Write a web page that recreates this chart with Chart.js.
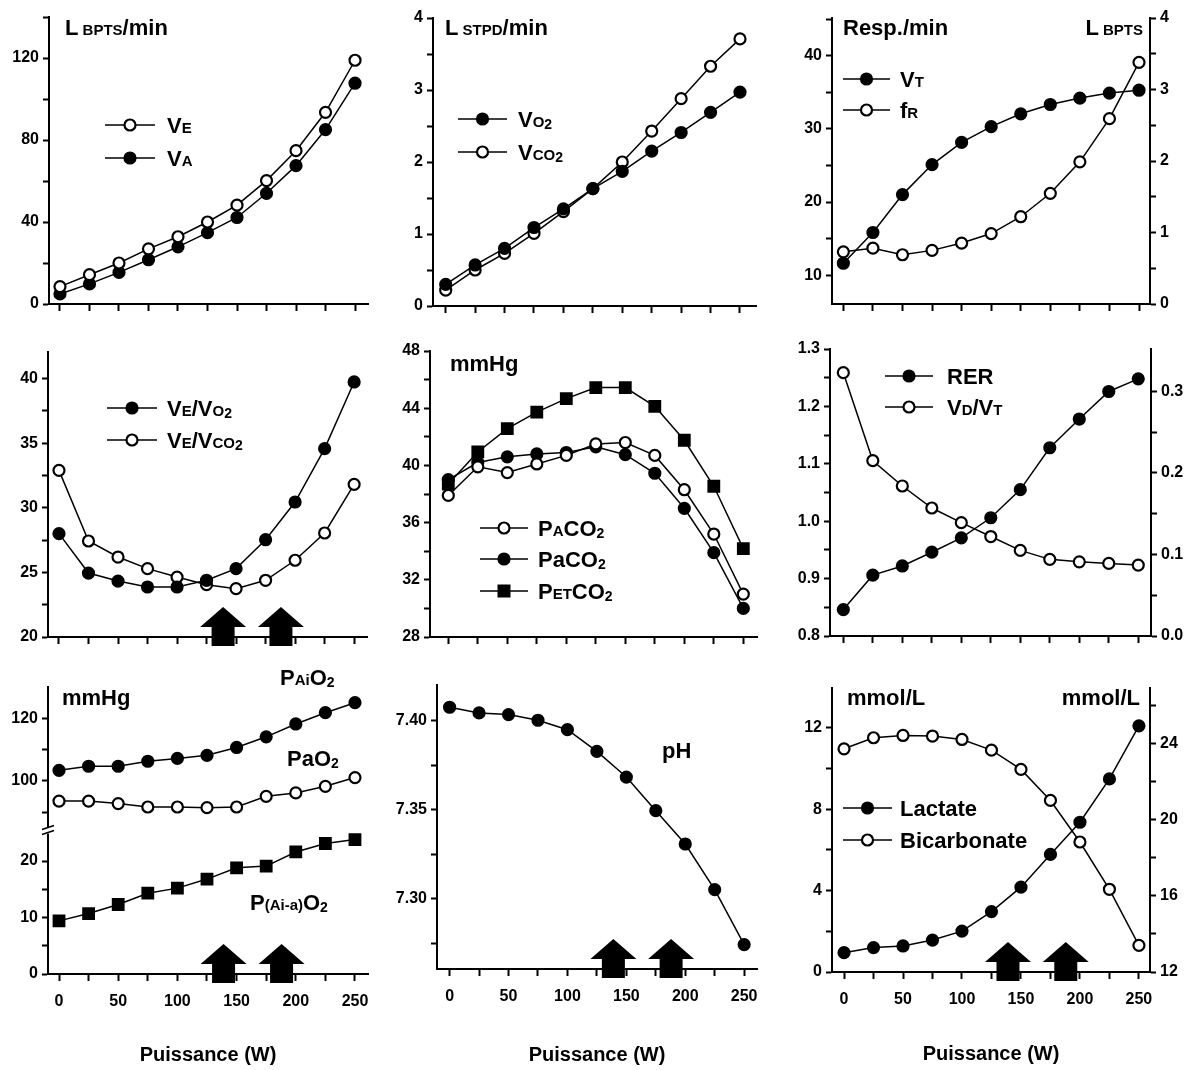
<!DOCTYPE html>
<html lang="fr">
<head>
<meta charset="UTF-8" />
<title>Puissance (W) - variables ventilatoires</title>
<script src="https://cdn.jsdelivr.net/npm/chart.js"></script>
<style>
  html, body { margin: 0; padding: 0; background: #fff; }
  #page { position: relative; width: 1193px; height: 1070px; overflow: hidden; background: #fff; }
  #page canvas { position: absolute; }
</style>
</head>
<body>
<div id="page"></div>
<script>
// x: puissance (W)
const watts = [0, 25, 50, 75, 100, 125, 150, 175, 200, 225, 250];
const xTicks = [0, 25, 50, 75, 100, 125, 150, 175, 200, 225, 250];
const xTickLabels = [0, 50, 100, 150, 200, 250];
const arrowsW = [139, 188];

// top row
const vE = [8.5, 14.3, 20.0, 26.9, 32.8, 40.0, 48.2, 60.2, 74.8, 93.5, 118.9];
const vA = [4.9, 9.8, 15.4, 21.6, 27.9, 34.8, 42.2, 54.0, 67.5, 85.1, 107.7];
const vO2 = [0.30, 0.57, 0.80, 1.09, 1.35, 1.63, 1.87, 2.15, 2.41, 2.69, 2.97];
const vCO2 = [0.22, 0.50, 0.73, 1.01, 1.31, 1.63, 2.00, 2.43, 2.88, 3.33, 3.71];
const vT = [0.57, 1.00, 1.53, 1.95, 2.26, 2.48, 2.66, 2.79, 2.88, 2.95, 2.99];
const fR = [13.2, 13.7, 12.8, 13.4, 14.4, 15.7, 18.0, 21.2, 25.5, 31.4, 39.1];

// middle row
const veVo2 = [28.0, 24.95, 24.33, 23.87, 23.87, 24.39, 25.29, 27.53, 30.45, 34.58, 39.74];
const veVco2 = [32.9, 27.43, 26.19, 25.29, 24.64, 24.05, 23.74, 24.39, 25.94, 28.05, 31.82];
const pAco2 = [37.9, 39.9, 39.5, 40.1, 40.7, 41.5, 41.6, 40.7, 38.3, 35.2, 31.0];
const paCo2 = [39.0, 40.2, 40.6, 40.8, 40.9, 41.3, 40.75, 39.45, 37.0, 33.9, 30.0];
const petCo2 = [38.7, 40.94, 42.57, 43.73, 44.67, 45.44, 45.44, 44.13, 41.76, 38.54, 34.18];
const rer = [0.846, 0.906, 0.922, 0.946, 0.971, 1.006, 1.055, 1.128, 1.178, 1.226, 1.248];
const vdVt = [0.323, 0.215, 0.184, 0.157, 0.139, 0.122, 0.105, 0.094, 0.091, 0.089, 0.087];

// bottom row
const pAiO2 = [103.4, 104.7, 104.7, 106.3, 107.2, 108.2, 110.7, 114.1, 118.2, 121.8, 125.0];
const paO2 = [93.6, 93.6, 92.8, 91.7, 91.7, 91.5, 91.7, 95.1, 96.2, 98.3, 101.1];
const pAiaO2 = [9.4, 10.7, 12.3, 14.3, 15.2, 16.8, 18.8, 19.1, 21.6, 23.1, 23.8];
const pH = [7.4075, 7.4043, 7.4034, 7.4002, 7.3949, 7.3827, 7.3683, 7.3494, 7.3307, 7.3051, 7.2742];
const lactate = [0.95, 1.20, 1.28, 1.57, 2.01, 2.97, 4.17, 5.78, 7.36, 9.49, 12.1];
const bicarb = [23.71, 24.29, 24.41, 24.38, 24.20, 23.64, 22.63, 21.0, 18.82, 16.34, 13.40];

// y ticks (all tick marks) and the ones that get a label
const p1Ticks = [0, 20, 40, 60, 80, 100, 120, 140], p1Labels = [0, 40, 80, 120];
const p2Ticks = [0, 0.5, 1, 1.5, 2, 2.5, 3, 3.5, 4], p2Labels = [0, 1, 2, 3, 4];
const p3LeftTicks = [10, 15, 20, 25, 30, 35, 40, 45], p3LeftLabels = [10, 20, 30, 40];
const p3RightTicks = [0, 0.5, 1, 1.5, 2, 2.5, 3, 3.5, 4], p3RightLabels = [0, 1, 2, 3, 4];
const p4Ticks = [20, 22.5, 25, 27.5, 30, 32.5, 35, 37.5, 40], p4Labels = [20, 25, 30, 35, 40];
const p5Ticks = [28, 30, 32, 34, 36, 38, 40, 42, 44, 46, 48], p5Labels = [28, 32, 36, 40, 44, 48];
const p6LeftTicks = [0.8, 0.85, 0.9, 0.95, 1.0, 1.05, 1.1, 1.15, 1.2, 1.25, 1.3], p6LeftLabels = [0.8, 0.9, 1.0, 1.1, 1.2, 1.3];
const p6RightTicks = [0, 0.05, 0.1, 0.15, 0.2, 0.25, 0.3], p6RightLabels = [0, 0.1, 0.2, 0.3];
const p7LowTicks = [0, 5, 10, 15, 20], p7LowLabels = [0, 10, 20];
const p7HighTicks = [90, 100, 110, 120], p7HighLabels = [100, 120];
const p8Ticks = [7.275, 7.30, 7.325, 7.35, 7.375, 7.40], p8Labels = [7.30, 7.35, 7.40];
const p9LeftTicks = [0, 2, 4, 6, 8, 10, 12], p9LeftLabels = [0, 4, 8, 12];
const p9RightTicks = [12, 14, 16, 18, 20, 22, 24, 26], p9RightLabels = [12, 16, 20, 24];

const FONT = '"Liberation Sans", Arial, Helvetica, sans-serif';
Chart.defaults.font.family = FONT;
Chart.defaults.font.size = 16;
Chart.defaults.font.weight = 'bold';
Chart.defaults.color = '#000';

// rich text pieces: big letter, small caps, subscript
const B = t => ({ t: t, s: 22 });
const S = t => ({ t: t, s: 15 });
const U = t => ({ t: t, s: 14, dy: 2 });

const f0 = v => String(v);
const f1 = v => v.toFixed(1);
const f2 = v => v.toFixed(2);

const panels = [
  { // VE, VA
    box: { l: 49, r: 368, t: 17, b: 304 }, xMin: -9.3, xMax: 261, xLabels: false,
    axes: { y: { pos: 'left', min: 0, max: 140, ticks: p1Ticks, labelled: p1Labels, fmt: f0 } },
    series: [
      { label: 'VE', data: vE, style: 'open', axis: 'y', rich: [B('V'), S('E')] },
      { label: 'VA', data: vA, style: 'filled', axis: 'y', rich: [B('V'), S('A')] }
    ],
    legend: { x1: 105, x2: 155, tx: 167, rows: [{ i: 0, y: 125 }, { i: 1, y: 158 }] },
    texts: [{ x: 65, y: 27, parts: [B('L'), S(' BPTS'), B('/min')] }]
  },
  { // VO2, VCO2
    box: { l: 433, r: 756, t: 18.3, b: 306 }, xMin: -10.8, xMax: 263.6, xLabels: false,
    axes: { y: { pos: 'left', min: 0, max: 4, ticks: p2Ticks, labelled: p2Labels, fmt: f0 } },
    series: [
      { label: 'VO2', data: vO2, style: 'filled', axis: 'y', rich: [B('V'), S('O'), U('2')] },
      { label: 'VCO2', data: vCO2, style: 'open', axis: 'y', rich: [B('V'), S('CO'), U('2')] }
    ],
    legend: { x1: 458, x2: 507, tx: 518, rows: [{ i: 0, y: 119 }, { i: 1, y: 152 }] },
    texts: [{ x: 445, y: 27, parts: [B('L'), S(' STPD'), B('/min')] }]
  },
  { // VT, fR
    box: { l: 832, r: 1150, t: 18.3, b: 304 }, xMin: -9.6, xMax: 259.3, xLabels: false,
    axes: {
      y: { pos: 'left', min: 6.07, max: 45.16, ticks: p3LeftTicks, labelled: p3LeftLabels, fmt: f0 },
      y2: { pos: 'right', min: 0, max: 4, ticks: p3RightTicks, labelled: p3RightLabels, fmt: f0 }
    },
    series: [
      { label: 'VT', data: vT, style: 'filled', axis: 'y2', rich: [B('V'), S('T')] },
      { label: 'fR', data: fR, style: 'open', axis: 'y', rich: [B('f'), S('R')] }
    ],
    legend: { x1: 843, x2: 890, tx: 900, rows: [{ i: 0, y: 79 }, { i: 1, y: 110 }] },
    texts: [
      { x: 843, y: 27, parts: [B('Resp./min')] },
      { x: 1143, y: 27, align: 'right', parts: [B('L'), S(' BPTS')] }
    ]
  },
  { // VE/VO2, VE/VCO2
    box: { l: 48.3, r: 367, t: 351.7, b: 636.7 }, xMin: -9.3, xMax: 260.9, xLabels: false, arrows: true,
    axes: { y: { pos: 'left', min: 20, max: 42.06, ticks: p4Ticks, labelled: p4Labels, fmt: f0 } },
    series: [
      { label: 'VE/VO2', data: veVo2, style: 'filled', axis: 'y', rich: [B('V'), S('E'), B('/V'), S('O'), U('2')] },
      { label: 'VE/VCO2', data: veVco2, style: 'open', axis: 'y', rich: [B('V'), S('E'), B('/V'), S('CO'), U('2')] }
    ],
    legend: { x1: 107, x2: 157, tx: 167, rows: [{ i: 0, y: 408 }, { i: 1, y: 440 }] },
    texts: []
  },
  { // PACO2, PaCO2, PETCO2
    box: { l: 430, r: 757, t: 350.7, b: 636.7 }, xMin: -15.5, xMax: 261.6, xLabels: false,
    axes: { y: { pos: 'left', min: 28, max: 48, ticks: p5Ticks, labelled: p5Labels, fmt: f0 } },
    series: [
      { label: 'PACO2', data: pAco2, style: 'open', axis: 'y', rich: [B('P'), S('A'), B('CO'), U('2')] },
      { label: 'PaCO2', data: paCo2, style: 'filled', axis: 'y', rich: [B('PaCO'), U('2')] },
      { label: 'PETCO2', data: petCo2, style: 'square', axis: 'y', rich: [B('P'), S('ET'), B('CO'), U('2')] }
    ],
    legend: { x1: 480, x2: 528, tx: 538, rows: [{ i: 0, y: 528 }, { i: 1, y: 559 }, { i: 2, y: 591 }] },
    texts: [{ x: 450, y: 363, parts: [B('mmHg')] }]
  },
  { // RER, VD/VT
    box: { l: 830, r: 1150.7, t: 349.3, b: 636.7 }, xMin: -11.3, xMax: 260.8, xLabels: false,
    axes: {
      y: { pos: 'left', min: 0.8, max: 1.3, ticks: p6LeftTicks, labelled: p6LeftLabels, fmt: f1 },
      y2: { pos: 'right', min: 0, max: 0.352, ticks: p6RightTicks, labelled: p6RightLabels, fmt: f1 }
    },
    series: [
      { label: 'RER', data: rer, style: 'filled', axis: 'y', rich: [B('RER')] },
      { label: 'VD/VT', data: vdVt, style: 'open', axis: 'y2', rich: [B('V'), S('D'), B('/V'), S('T')] }
    ],
    legend: { x1: 885, x2: 933, tx: 947, rows: [{ i: 0, y: 376 }, { i: 1, y: 407 }] },
    texts: []
  },
  { // PAiO2, PaO2, P(Ai-a)O2 with broken axis
    box: { l: 48.3, r: 368, t: 686.7, b: 974 }, xMin: -9.3, xMax: 261, xLabels: true, arrows: true, broken: true,
    axes: {
      yLow: { pos: 'left', min: 0, max: 25.4, ticks: p7LowTicks, labelled: p7LowLabels, fmt: f0, stack: 'p7' },
      yHigh: { pos: 'left', min: 84.2, max: 130, ticks: p7HighTicks, labelled: p7HighLabels, fmt: f0, stack: 'p7' }
    },
    series: [
      { label: 'PAiO2', data: pAiO2, style: 'filled', axis: 'yHigh' },
      { label: 'PaO2', data: paO2, style: 'open', axis: 'yHigh' },
      { label: 'P(Ai-a)O2', data: pAiaO2, style: 'square', axis: 'yLow' }
    ],
    texts: [
      { x: 62, y: 697, parts: [B('mmHg')] },
      { x: 280, y: 677, parts: [B('P'), S('Ai'), B('O'), U('2')] },
      { x: 287, y: 758, parts: [B('PaO'), U('2')] },
      { x: 250, y: 902, parts: [B('P'), S('(Ai-a)'), B('O'), U('2')] }
    ]
  },
  { // pH
    box: { l: 436.7, r: 757, t: 685, b: 969.3 }, xMin: -10.7, xMax: 260.9, xLabels: true, arrows: true,
    axes: { y: { pos: 'left', min: 7.2605, max: 7.42, ticks: p8Ticks, labelled: p8Labels, fmt: f2 } },
    series: [{ label: 'pH', data: pH, style: 'filled', axis: 'y' }],
    texts: [{ x: 662, y: 750, parts: [B('pH')] }]
  },
  { // lactate, bicarbonate
    box: { l: 832.3, r: 1150, t: 688.3, b: 972.7 }, xMin: -10.2, xMax: 259.4, xLabels: true, arrows: true,
    axes: {
      y: { pos: 'left', min: 0, max: 13.96, ticks: p9LeftTicks, labelled: p9LeftLabels, fmt: f0 },
      y2: { pos: 'right', min: 12, max: 26.9, ticks: p9RightTicks, labelled: p9RightLabels, fmt: f0 }
    },
    series: [
      { label: 'Lactate', data: lactate, style: 'filled', axis: 'y', rich: [B('Lactate')] },
      { label: 'Bicarbonate', data: bicarb, style: 'open', axis: 'y2', rich: [B('Bicarbonate')] }
    ],
    legend: { x1: 843, x2: 892, tx: 900, rows: [{ i: 0, y: 808 }, { i: 1, y: 840 }] },
    texts: [
      { x: 847, y: 697, parts: [B('mmol/L')] },
      { x: 1140, y: 697, align: 'right', parts: [B('mmol/L')] }
    ]
  }
];

const Y_W = 55, PAD_TOP = 30, BOTTOM = 1074;

const tickGrid = len => ({
  display: true, drawOnChartArea: false, drawTicks: true,
  tickLength: len, tickWidth: 2, tickColor: '#000', color: '#000'
});
const axisBorder = { display: true, color: '#000', width: 2 };

function yAxis(a) {
  return {
    type: 'linear', position: a.pos, min: a.min, max: a.max,
    stack: a.stack, stackWeight: 1,
    afterBuildTicks: s => { s.ticks = a.ticks.map(v => ({ value: v })); },
    afterFit: s => {
      s.width = Y_W;
      s.paddingTop = 0; s.paddingBottom = 0; s.paddingLeft = 0; s.paddingRight = 0;
    },
    ticks: {
      autoSkip: false, padding: 4, color: '#000', font: { size: 16, weight: 'bold' },
      callback: v => a.labelled.some(l => Math.abs(l - v) < 1e-9) ? a.fmt(v) : ''
    },
    grid: tickGrid(6),
    border: axisBorder
  };
}

function xAxis(p, xh) {
  return {
    type: 'linear', position: 'bottom', min: p.xMin, max: p.xMax,
    afterBuildTicks: s => { s.ticks = xTicks.map(v => ({ value: v })); },
    afterFit: s => {
      s.height = xh;
      s.paddingLeft = 0; s.paddingRight = 0; s.paddingTop = 0; s.paddingBottom = 0;
    },
    ticks: {
      autoSkip: false, maxRotation: 0, minRotation: 0, padding: 11, color: '#000',
      font: { size: 16, weight: 'bold' },
      callback: v => (p.xLabels && xTickLabels.includes(v)) ? String(v) : ''
    },
    grid: tickGrid(7),
    border: axisBorder,
    title: {
      display: p.xLabels, text: 'Puissance (W)', color: '#000',
      font: { size: 20, weight: 'bold' }, padding: { top: 0, bottom: 7 }
    }
  };
}

function dataset(s) {
  const open = s.style === 'open';
  const square = s.style === 'square';
  return {
    label: s.label,
    yAxisID: s.axis,
    data: watts.map((w, i) => ({ x: w, y: s.data[i] })),
    borderColor: '#000', borderWidth: 1.5, tension: 0, fill: false,
    pointStyle: square ? 'rect' : 'circle',
    pointRadius: square ? 7.5 : 5.5,
    pointBackgroundColor: open ? '#fff' : '#000',
    pointBorderColor: '#000', pointBorderWidth: 2.2,
    clip: false
  };
}

function drawMarker(ctx, style, x, y) {
  ctx.lineWidth = 2.2;
  ctx.strokeStyle = '#000';
  if (style === 'square') {
    ctx.fillStyle = '#000';
    ctx.fillRect(x - 6.5, y - 6.5, 13, 13);
    return;
  }
  ctx.beginPath();
  ctx.arc(x, y, 5.5, 0, Math.PI * 2);
  ctx.fillStyle = style === 'open' ? '#fff' : '#000';
  ctx.fill();
  ctx.stroke();
  ctx.fillStyle = '#000';
}

function drawRich(ctx, parts, x, y, align) {
  let w = 0;
  parts.forEach(p => { ctx.font = 'bold ' + p.s + 'px ' + FONT; w += ctx.measureText(p.t).width; });
  let cx = align === 'right' ? x - w : x;
  ctx.fillStyle = '#000';
  ctx.textAlign = 'left';
  ctx.textBaseline = 'alphabetic';
  parts.forEach(p => {
    ctx.font = 'bold ' + p.s + 'px ' + FONT;
    ctx.fillText(p.t, cx, y + 8 + (p.dy || 0));
    cx += ctx.measureText(p.t).width;
  });
}

function extras(p, ox, oy) {
  return {
    id: 'extras',
    afterDatasetsDraw(chart) {
      const ctx = chart.ctx;
      ctx.save();
      if (p.legend) {
        const L = p.legend;
        L.rows.forEach(row => {
          const s = p.series[row.i];
          const y = row.y - oy;
          ctx.strokeStyle = '#000';
          ctx.lineWidth = 1.5;
          ctx.beginPath();
          ctx.moveTo(L.x1 - ox, y);
          ctx.lineTo(L.x2 - ox, y);
          ctx.stroke();
          drawMarker(ctx, s.style, (L.x1 + L.x2) / 2 - ox, y);
          drawRich(ctx, s.rich, L.tx - ox, y, 'left');
        });
      }
      (p.texts || []).forEach(t => drawRich(ctx, t.parts, t.x - ox, t.y - oy, t.align || 'left'));
      ctx.restore();
    },
    afterDraw(chart) {
      const ctx = chart.ctx;
      const area = chart.chartArea;
      ctx.save();
      if (p.broken) {
        // axis break between the two stacked y scales
        const yb = chart.scales.yLow.top;
        const xa = area.left;
        ctx.fillStyle = '#fff';
        ctx.fillRect(xa - 3, yb - 3, 6, 6);
        ctx.strokeStyle = '#000';
        ctx.lineWidth = 1.8;
        ctx.beginPath();
        ctx.moveTo(xa - 6, yb - 1); ctx.lineTo(xa + 6, yb - 5);
        ctx.moveTo(xa - 6, yb + 4); ctx.lineTo(xa + 6, yb);
        ctx.stroke();
      }
      if (p.arrows) {
        const xs = chart.scales.x;
        const base = area.bottom;
        ctx.fillStyle = '#000';
        arrowsW.forEach(w => {
          const cx = xs.getPixelForValue(w);
          ctx.beginPath();
          ctx.moveTo(cx, base - 30);
          ctx.lineTo(cx + 23, base - 10);
          ctx.lineTo(cx + 11.5, base - 10);
          ctx.lineTo(cx + 11.5, base + 9);
          ctx.lineTo(cx - 11.5, base + 9);
          ctx.lineTo(cx - 11.5, base - 10);
          ctx.lineTo(cx - 23, base - 10);
          ctx.closePath();
          ctx.fill();
        });
      }
      ctx.restore();
    }
  };
}

const page = document.getElementById('page');

function build(p) {
  const hasRight = Object.values(p.axes).some(a => a.pos === 'right');
  const padR = hasRight ? 0 : 15;
  const xh = p.xLabels ? Math.round(BOTTOM - p.box.b) : 25;
  const ox = Math.round(p.box.l - Y_W);
  const oy = Math.round(p.box.t - PAD_TOP);
  const w = Math.round(p.box.r - p.box.l) + Y_W + (hasRight ? Y_W : padR);
  const h = Math.round(p.box.b - p.box.t) + PAD_TOP + xh;

  const cv = document.createElement('canvas');
  cv.width = w; cv.height = h;
  cv.style.left = ox + 'px'; cv.style.top = oy + 'px';
  cv.style.width = w + 'px'; cv.style.height = h + 'px';
  page.appendChild(cv);

  const scales = { x: xAxis(p, xh) };
  Object.keys(p.axes).forEach(id => { scales[id] = yAxis(p.axes[id]); });

  new Chart(cv, {
    type: 'line',
    data: { datasets: p.series.map(dataset) },
    options: {
      responsive: false,
      maintainAspectRatio: false,
      animation: false,
      devicePixelRatio: 1,
      layout: { padding: { left: 0, top: PAD_TOP, right: padR, bottom: 0 } },
      scales: scales,
      plugins: { legend: { display: false }, tooltip: { enabled: false } }
    },
    plugins: [extras(p, ox, oy)]
  });
}

panels.forEach(build);
</script>
</body>
</html>
